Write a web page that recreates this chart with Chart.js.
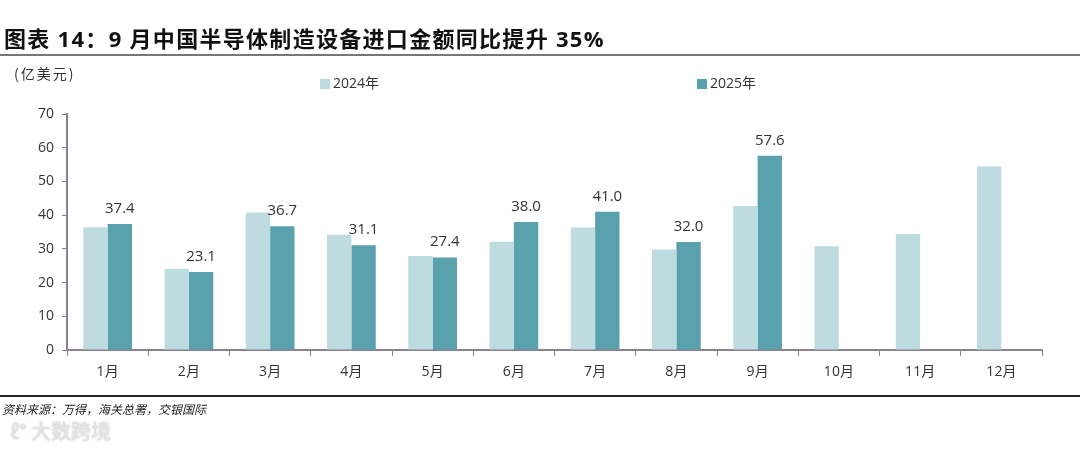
<!DOCTYPE html>
<html>
<head>
<meta charset="utf-8">
<script src="https://cdn.jsdelivr.net/npm/chart.js@4.4.1/dist/chart.umd.min.js"></script>
<style>
  html, body { margin: 0; padding: 0; background: #fff; }
  body { width: 1080px; height: 449px; position: relative; overflow: hidden;
         font-family: "Open Sans", "Noto Sans CJK SC", sans-serif; }
  #title { position: absolute; left: 4px; top: 21px; font-size: 22px; font-weight: bold;
           color: #111; letter-spacing: 1.3px; font-family: "Open Sans", "Noto Sans CJK SC", sans-serif; }
  #rule1 { position: absolute; left: 0; top: 54px; width: 1080px; height: 2px; background: #777; }
  #rule2 { position: absolute; left: 0; top: 395px; width: 1080px; height: 2px; background: #222; }
  #unit { position: absolute; left: 14px; top: 63px; font-size: 14px; color: #333; letter-spacing: 2px; font-family: "Noto Sans CJK SC", sans-serif; }
  .leg { position: absolute; top: 72px; font-size: 14px; color: #333; font-family: "Open Sans", "Noto Sans CJK SC", sans-serif; }
  .leg i { display: inline-block; width: 10px; height: 10px; margin-right: 3px; vertical-align: -1px; }
  #source { position: absolute; left: 2px; top: 400px; font-size: 12px; color: #222; font-style: italic;
            font-family: "Noto Sans CJK SC", sans-serif; }
  #mark { position: absolute; left: 10px; top: 416px; font-size: 20px; color: #e4e4e4; font-family: "Noto Sans CJK SC", sans-serif;
          text-shadow: 0 0 2px #bbb; }
  #wrap { position: absolute; left: 0; top: 0; width: 1080px; height: 449px; }
</style>
</head>
<body>
<div id="wrap"><canvas id="chart"></canvas></div>
<div id="title">图表 14：9 月中国半导体制造设备进口金额同比提升 35%</div>
<div id="rule1"></div>
<div id="unit">(亿美元)</div>
<div class="leg" style="left:320px"><i style="background:#bedce0"></i>2024年</div>
<div class="leg" style="left:697px"><i style="background:#5aa1ae"></i>2025年</div>
<div id="rule2"></div>
<div id="source">资料来源：万得，海关总署，交银国际</div>
<div id="mark">ℓ° 大数跨境</div>
<script>
// data
const months = ["1月", "2月", "3月", "4月", "5月", "6月", "7月", "8月", "9月", "10月", "11月", "12月"];
const y2024 = [36.4, 24.0, 40.8, 34.2, 27.9, 32.1, 36.3, 29.8, 42.7, 30.8, 34.4, 54.4];
const y2025 = [37.4, 23.1, 36.7, 31.1, 27.4, 38.0, 41.0, 32.0, 57.6, null, null, null];
const yTicks = [0, 10, 20, 30, 40, 50, 60, 70];

const axisColor = "#8a8290";

// value labels above the 2025 bars
const barLabels = {
  id: "barLabels",
  afterDatasetsDraw(chart) {
    const ctx = chart.ctx;
    const meta = chart.getDatasetMeta(1);
    ctx.save();
    ctx.font = "15px 'Open Sans', sans-serif";
    ctx.fillStyle = "#333";
    ctx.textAlign = "center";
    ctx.textBaseline = "bottom";
    meta.data.forEach((bar, i) => {
      if (y2025[i] == null) return;
      ctx.fillText(y2025[i].toFixed(1), bar.x, bar.y - 8);
    });
    ctx.restore();
  }
};

new Chart(document.getElementById("chart"), {
  type: "bar",
  data: {
    labels: months,
    datasets: [
      { label: "2024年", data: y2024, backgroundColor: "#bedce0" },
      { label: "2025年", data: y2025, backgroundColor: "#5aa1ae" }
    ]
  },
  options: {
    responsive: true,
    maintainAspectRatio: false,
    animation: false,
    devicePixelRatio: 1,
    layout: { padding: { top: 114, right: 38, bottom: 53, left: 0 } },
    datasets: { bar: { categoryPercentage: 0.6, barPercentage: 1.0 } },
    plugins: { legend: { display: false }, tooltip: { enabled: false } },
    scales: {
      x: {
        grid: { display: true, drawOnChartArea: false, drawTicks: true, tickLength: 6, color: axisColor, offset: true },
        border: { color: axisColor, width: 2 },
        ticks: { color: "#333", font: { size: 14, family: "'Open Sans', 'Noto Sans CJK SC', sans-serif" }, padding: 8 },
        afterFit(scale) { scale.height = 46; }
      },
      y: {
        min: 0,
        max: 70,
        afterBuildTicks(scale) { scale.ticks = yTicks.map(v => ({ value: v })); },
        grid: { display: true, drawOnChartArea: false, drawTicks: true, tickLength: 5, color: axisColor },
        border: { color: axisColor, width: 2 },
        ticks: { color: "#333", font: { size: 14, family: "'Open Sans', sans-serif" }, padding: 8 },
        afterFit(scale) { scale.width = 67; }
      }
    }
  },
  plugins: [barLabels]
});
</script>
</body>
</html>
